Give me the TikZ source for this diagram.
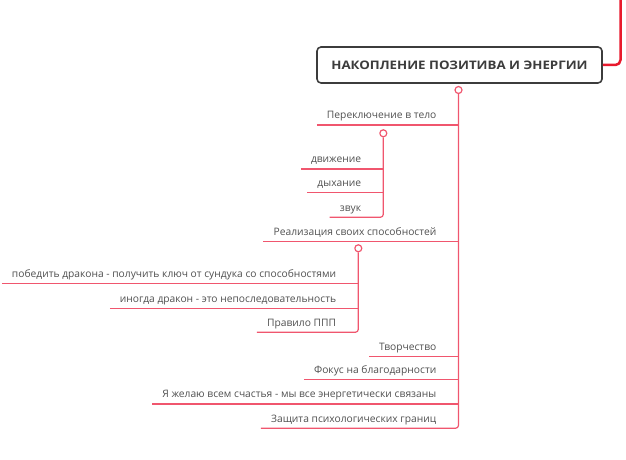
\documentclass[tikz,border=0pt]{standalone}
\usepackage{fontspec}
\setmainfont{Open Sans}
\usetikzlibrary{calc}
\definecolor{mapred}{HTML}{E8192C}
\definecolor{mappink}{HTML}{F0566E}
\definecolor{maptext}{HTML}{505050}
\definecolor{mapframe}{HTML}{3C3C3C}
\begin{document}
\begin{tikzpicture}[x=1bp,y=-1bp,line join=round,
  title/.style={draw=mapframe,line width=1.6bp,rounded corners=4bp,minimum width=285bp,minimum height=36bp,inner sep=0pt,text=mapframe,font=\bfseries\fontsize{11.8}{13}\selectfont\addfontfeature{FakeStretch=1.13}},
  topic/.style={anchor=south east,inner xsep=10bp,inner ysep=3.5bp,text height=7.5bp,text depth=2.5bp,text=maptext,font=\fontsize{10.3}{12}\selectfont},
  branch/.style={mappink,line width=1.2bp},
  knob/.style={circle,draw=mappink,fill=white,line width=1.2bp,inner sep=0pt,minimum size=7bp}]
\useasboundingbox (0,0) rectangle (626,460);
%%
\node (node_title) at (459.5,65) [title] {НАКОПЛЕНИЕ ПОЗИТИВА И ЭНЕРГИИ};
  \coordinate (node_top) at (620.5,0);
  \node (knob_0) at (458.5,90) [knob] {};
  \node (node_1) at (446.5,125) [topic] {Переключение в тело};
  \node (knob_1) at (383.3,133.3) [knob] {};
  \node (node_1_1) at (371.3,169) [topic] {движение};
  \node (node_1_2) at (371.3,192.7) [topic] {дыхание};
  \node (node_1_3) at (371.3,217.3) [topic] {звук};
  \node (node_2) at (446.5,241.7) [topic] {Реализация своих способностей};
  \node (knob_2) at (358.3,248.3) [knob] {};
  \node (node_2_1) at (346.3,283.3) [topic] {победить дракона - получить ключ от сундука со способностями};
  \node (node_2_2) at (346.3,308.3) [topic] {иногда дракон - это непоследовательность};
  \node (node_2_3) at (346.3,332.3) [topic] {Правило ППП};
  \node (node_3) at (446.5,356.7) [topic] {Творчество};
  \node (node_4) at (446.5,379.3) [topic] {Фокус на благодарности};
  \node (node_5) at (446.5,404) [topic] {Я желаю всем счастья - мы все энергетически связаны};
  \node (node_6) at (446.5,428.3) [topic] {Защита психологических границ};
  \draw [mapred,line width=2.5bp,rounded corners=5bp] (node_title.east) -- (node_title.east -| node_top) -- (node_top);
  \draw [branch,rounded corners=3bp] (knob_0.south) |- (node_6.south west);
  \draw [branch] (node_1.south west) -- (node_1.south west -| knob_0);
  \draw [branch] (node_2.south west) -- (node_2.south west -| knob_0);
  \draw [branch] (node_3.south west) -- (node_3.south west -| knob_0);
  \draw [branch] (node_4.south west) -- (node_4.south west -| knob_0);
  \draw [branch] (node_5.south west) -- (node_5.south west -| knob_0);
  \draw [branch,rounded corners=3bp] (knob_1.south) |- (node_1_3.south west);
  \draw [branch] (node_1_1.south west) -- (node_1_1.south west -| knob_1);
  \draw [branch] (node_1_2.south west) -- (node_1_2.south west -| knob_1);
  \draw [branch,rounded corners=3bp] (knob_2.south) |- (node_2_3.south west);
  \draw [branch] (node_2_1.south west) -- (node_2_1.south west -| knob_2);
  \draw [branch] (node_2_2.south west) -- (node_2_2.south west -| knob_2);
%
\end{tikzpicture}
\end{document}
